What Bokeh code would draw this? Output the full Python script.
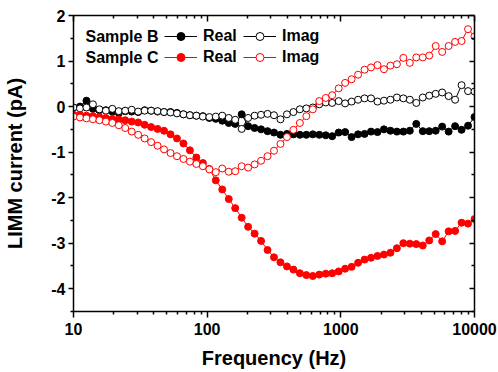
from bokeh.plotting import figure
from bokeh.models import Range1d, FixedTicker, LogAxis, LinearAxis, Legend, LegendItem, Label
from bokeh.embed import file_html
from bokeh.resources import INLINE

# Frequency sweep (Hz)
freq = [10.00, 11.18, 12.50, 13.97, 15.62, 17.46, 19.52, 21.82, 24.38, 27.26,
        30.47, 34.06, 38.07, 42.56, 47.57, 53.18, 59.44, 66.45, 74.28, 83.03,
        92.85, 103.8, 116.0, 129.7, 145.0, 162.1, 181.2, 202.5, 226.4, 253.1,
        282.9, 316.2, 353.5, 395.2, 441.7, 493.8, 552.0, 617.0, 689.8, 771.1,
        861.9, 963.5, 1077, 1204, 1346, 1505, 1682, 1880, 2102, 2350,
        2627, 2936, 3282, 3669, 4102, 4585, 5125, 5729, 6404, 7159,
        8003, 8946, 10000]

# Sample B
b_real = [-0.02, 0.00, 0.13, -0.05, -0.08, -0.08, -0.11, -0.14, -0.10, -0.11,
          -0.12, -0.08, -0.09, -0.11, -0.12, -0.12, -0.14, -0.17, -0.19, -0.20,
          -0.21, -0.25, -0.27, -0.31, -0.36, -0.38, -0.17, -0.43, -0.47, -0.50,
          -0.54, -0.57, -0.62, -0.60, -0.61, -0.62, -0.62, -0.61, -0.62, -0.63,
          -0.65, -0.57, -0.56, -0.67, -0.61, -0.60, -0.55, -0.56, -0.50, -0.53,
          -0.55, -0.55, -0.53, -0.38, -0.54, -0.54, -0.53, -0.44, -0.55, -0.43,
          -0.51, -0.42, -0.23]
b_imag = [-0.02, -0.04, -0.02, 0.05, -0.06, -0.09, -0.05, -0.10, -0.09, -0.07,
          -0.11, -0.09, -0.09, -0.10, -0.12, -0.13, -0.15, -0.17, -0.19, -0.20,
          -0.22, -0.23, -0.22, -0.20, -0.25, -0.29, -0.49, -0.25, -0.20, -0.18,
          -0.16, -0.19, -0.28, -0.17, -0.12, -0.06, -0.04, -0.02, 0.05, 0.09,
          0.08, 0.12, 0.07, 0.11, 0.15, 0.18, 0.18, 0.11, 0.13, 0.15,
          0.20, 0.18, 0.15, 0.08, 0.20, 0.24, 0.28, 0.31, 0.23, 0.15,
          0.47, 0.34, 0.33]

# Sample C
c_real = [-0.18, -0.18, -0.20, -0.21, -0.23, -0.25, -0.27, -0.28, -0.30, -0.33,
          -0.35, -0.40, -0.45, -0.49, -0.53, -0.61, -0.70, -0.81, -0.96, -1.12,
          -1.24, -1.37, -1.62, -1.82, -2.03, -2.23, -2.44, -2.64, -2.79, -2.95,
          -3.15, -3.31, -3.42, -3.51, -3.58, -3.66, -3.70, -3.72, -3.69, -3.67,
          -3.66, -3.62, -3.56, -3.52, -3.43, -3.36, -3.32, -3.28, -3.25, -3.21,
          -3.11, -3.00, -3.01, -3.02, -3.05, -2.94, -2.80, -2.96, -2.74, -2.73,
          -2.55, -2.57, -2.47]
c_imag = [-0.22, -0.24, -0.26, -0.28, -0.30, -0.33, -0.36, -0.41, -0.47, -0.55,
          -0.62, -0.70, -0.78, -0.86, -0.94, -1.02, -1.09, -1.15, -1.21, -1.26,
          -1.31, -1.38, -1.44, -1.36, -1.43, -1.42, -1.31, -1.34, -1.27, -1.19,
          -1.09, -0.97, -0.82, -0.67, -0.51, -0.36, -0.21, -0.06, 0.12, 0.19,
          0.25, 0.40, 0.52, 0.60, 0.70, 0.81, 0.86, 0.91, 0.82, 0.90,
          0.93, 1.07, 0.96, 1.08, 1.08, 1.12, 1.33, 1.20, 1.33, 1.42,
          1.44, 1.70, 1.54]

x_major = [10, 100, 1000, 10000]
x_labels = ["10", "100", "1000", "10000"]
x_minor = [20, 30, 40, 50, 60, 70, 80, 90, 200, 300, 400, 500, 600, 700, 800, 900,
           2000, 3000, 4000, 5000, 6000, 7000, 8000, 9000]
y_major = [-4, -3, -2, -1, 0, 1, 2]
y_labels = ["-4", "-3", "-2", "-1", "0", "1", "2"]
y_minor = [-4.5, -3.5, -2.5, -1.5, -0.5, 0.5, 1.5]

FONT = "Liberation Sans"
RED = "#ff0000"

p = figure(width=498, height=372, x_axis_type="log",
           x_range=Range1d(10, 10000), y_range=Range1d(-4.5, 2),
           output_backend="svg", toolbar_location=None,
           min_border_left=73, min_border_right=24, min_border_top=15, min_border_bottom=61)
p.xgrid.visible = False
p.ygrid.visible = False
p.outline_line_color = None
p.background_fill_color = "white"
p.border_fill_color = "white"

br_l = p.line(freq, b_real, line_color="black", line_width=1)
br_s = p.scatter(freq, b_real, marker="circle", size=7, fill_color="black", line_color="black", line_width=1)
bi_l = p.line(freq, b_imag, line_color="black", line_width=1)
bi_s = p.scatter(freq, b_imag, marker="circle", size=7, fill_color="white", line_color="black", line_width=1)
cr_l = p.line(freq, c_real, line_color=RED, line_width=1)
cr_s = p.scatter(freq, c_real, marker="circle", size=7, fill_color=RED, line_color=RED, line_width=1)
ci_l = p.line(freq, c_imag, line_color=RED, line_width=1)
ci_s = p.scatter(freq, c_imag, marker="circle", size=7, fill_color="white", line_color=RED, line_width=1)

xt = FixedTicker(ticks=x_major, minor_ticks=x_minor)
yt = FixedTicker(ticks=y_major, minor_ticks=y_minor)


def style(ax, tin, tout, labels=True):
    ax.axis_line_width = 1.5
    ax.axis_line_color = "black"
    ax.major_tick_line_width = 1.5
    ax.minor_tick_line_width = 1.5
    ax.major_tick_line_color = "black"
    ax.minor_tick_line_color = "black"
    ax.major_tick_in = tin[0]
    ax.major_tick_out = tout[0]
    ax.minor_tick_in = tin[1]
    ax.minor_tick_out = tout[1]
    ax.major_label_text_font = FONT
    ax.major_label_text_font_style = "bold"
    ax.major_label_text_color = "black"
    if labels:
        ax.major_label_text_font_size = "16px"
    else:
        ax.major_label_text_font_size = "0px"
        ax.major_label_standoff = 0
    ax.axis_label_text_font = FONT
    ax.axis_label_text_font_style = "bold"
    ax.axis_label_text_font_size = "20px"
    ax.axis_label_text_color = "black"


xa = p.xaxis[0]
xa.ticker = xt
xa.major_label_overrides = dict(zip(x_major, x_labels))
style(xa, (0, 0), (6, 3))
xa.major_label_standoff = 5
xa.axis_label = "Frequency (Hz)"
xa.axis_label_standoff = 9

ya = p.yaxis[0]
ya.ticker = yt
ya.major_label_overrides = dict(zip(y_major, y_labels))
style(ya, (0, 0), (5, 3))
ya.major_label_standoff = 3
ya.axis_label = "LIMM current (pA)"
ya.axis_label_standoff = 22

top = LogAxis(ticker=FixedTicker(ticks=x_major, minor_ticks=x_minor))
style(top, (6, 3), (0, 0), labels=False)
top.major_label_overrides = {t: "" for t in x_major}
p.add_layout(top, "above")

right = LinearAxis(ticker=FixedTicker(ticks=y_major, minor_ticks=y_minor))
style(right, (5, 3), (0, 0), labels=False)
right.major_label_overrides = {t: "" for t in y_major}
p.add_layout(right, "right")

for txt, yv in [("Sample B", 1.53), ("Sample C", 1.07)]:
    p.add_layout(Label(x=12.3, y=yv, text=txt, text_font=FONT, text_font_size="16px",
                       text_font_style="bold", text_baseline="middle", text_color="black"))

legend = Legend(items=[LegendItem(label="Real", renderers=[br_l, br_s]),
                       LegendItem(label="Imag", renderers=[bi_l, bi_s]),
                       LegendItem(label="Real", renderers=[cr_l, cr_s]),
                       LegendItem(label="Imag", renderers=[ci_l, ci_s])],
                location=(91, 244), orientation="horizontal", ncols=2,
                glyph_width=33, glyph_height=20, label_height=20, label_width=39,
                label_standoff=6, spacing=1, padding=0, margin=0,
                border_line_color=None, background_fill_alpha=0,
                label_text_font=FONT, label_text_font_size="16px",
                label_text_font_style="bold", label_text_color="black")
p.add_layout(legend)

open("out.html", "w").write(file_html(p, INLINE))
